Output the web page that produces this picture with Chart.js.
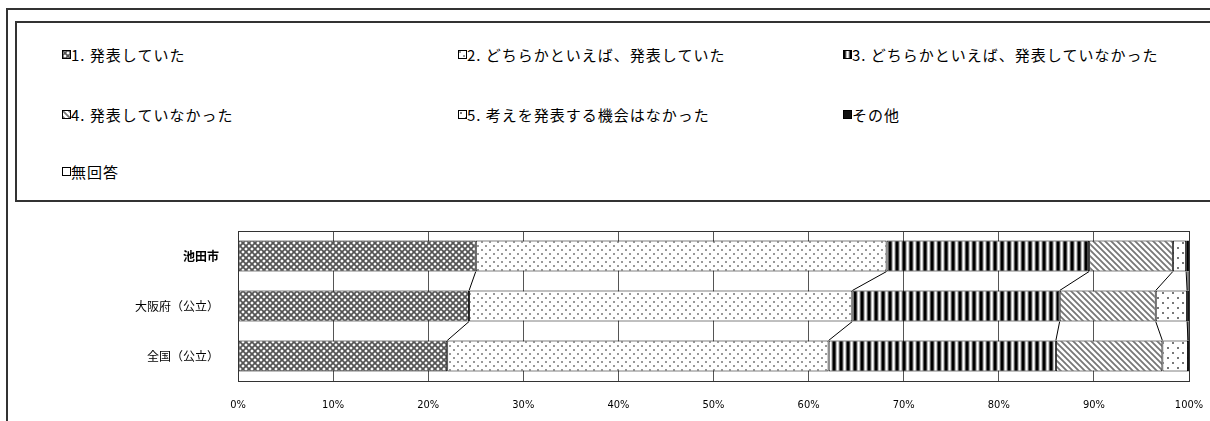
<!DOCTYPE html>
<html lang="ja">
<head>
<meta charset="utf-8">
<script src="https://cdn.jsdelivr.net/npm/chart.js@4"></script>
<style>
  body { margin: 0; background: #fff; }
  #wrap { position: relative; width: 1210px; height: 421px; overflow: hidden; }
  .frame { position: absolute; border: 2px solid #333; box-sizing: border-box; }
  #outer { left: 6px; top: 8px; width: 1300px; height: 500px; }
  #legendBox { left: 15px; top: 21px; width: 1300px; height: 181px; }
  .item { position: absolute; font: 15px "Noto Sans CJK JP", sans-serif; letter-spacing: 1px; color: #000; white-space: nowrap; line-height: 16px; }
  .item canvas { position: absolute; left: 0; top: 3px; }
  .item span { position: absolute; left: 9px; top: 0; }
  #chart { position: absolute; left: 0; top: 0; }
</style>
</head>
<body>
<div id="wrap">
  <div id="outer" class="frame"></div>
  <div id="legendBox" class="frame"></div>
  <div id="legend"></div>
  <canvas id="chart" width="1210" height="421"></canvas>
</div>
<script>
// 選択肢と地域
const categories = ["池田市", "大阪府（公立）", "全国（公立）"];
const seriesLabels = [
    "1. 発表していた",
    "2. どちらかといえば、発表していた",
    "3. どちらかといえば、発表していなかった",
    "4. 発表していなかった",
    "5. 考えを発表する機会はなかった",
    "その他",
    "無回答"
];
// 割合 (%)
const answer1 = [25.0, 24.3, 22.0];
const answer2 = [43.2, 40.3, 40.1];
const answer3 = [21.3, 21.8, 23.9];
const answer4 = [8.8, 10.1, 11.2];
const answer5 = [1.4, 3.3, 2.7];
const other = [0.2, 0.1, 0.0];
const noAnswer = [0.1, 0.1, 0.1];
const xTicks = [0, 10, 20, 30, 40, 50, 60, 70, 80, 90, 100];

const seriesValues = [answer1, answer2, answer3, answer4, answer5, other, noAnswer];

const ctx = document.getElementById("chart").getContext("2d");

// 模様を作る
function makePattern(w, h, draw) {
    const c = document.createElement("canvas");
    c.width = w;
    c.height = h;
    const g = c.getContext("2d");
    g.fillStyle = "#fff";
    g.fillRect(0, 0, w, h);
    draw(g);
    return ctx.createPattern(c, "repeat");
}

const patterns = [
    // 網目
    makePattern(6, 6, (g) => {
        g.strokeStyle = "#555";
        g.lineWidth = 1.8;
        g.beginPath();
        g.moveTo(-1, -1); g.lineTo(7, 7);
        g.moveTo(7, -1); g.lineTo(-1, 7);
        g.stroke();
    }),
    // 細かい点
    makePattern(8, 8, (g) => {
        g.fillStyle = "#999";
        g.fillRect(1, 1, 2, 2);
        g.fillRect(5, 5, 2, 2);
    }),
    // 縦じま
    makePattern(7, 1, (g) => {
        const cols = ["#000", "#000", "#444", "#bbb", "#fff", "#ccc", "#555"];
        cols.forEach((col, i) => {
            g.fillStyle = col;
            g.fillRect(i, 0, 1, 1);
        });
    }),
    // 斜線
    makePattern(6, 6, (g) => {
        g.strokeStyle = "#777";
        g.lineWidth = 1.8;
        g.beginPath();
        g.moveTo(-1, -1); g.lineTo(7, 7);
        g.moveTo(-4, 2); g.lineTo(2, 8);
        g.moveTo(2, -4); g.lineTo(8, 2);
        g.stroke();
    }),
    // 粗い点
    makePattern(10, 10, (g) => {
        g.fillStyle = "#777";
        g.fillRect(2, 2, 2, 2);
        g.fillRect(7, 7, 2, 2);
    }),
    "#111",
    "#fff"
];

// 凡例 (HTML)
const legendCols = [62, 458, 843];
const legendRows = [47, 107, 164];
const legendEl = document.getElementById("legend");
seriesLabels.forEach((label, i) => {
    const item = document.createElement("div");
    item.className = "item";
    item.style.left = legendCols[i % 3] + "px";
    item.style.top = legendRows[Math.floor(i / 3)] + "px";
    const sw = document.createElement("canvas");
    sw.width = 9;
    sw.height = 9;
    const sg = sw.getContext("2d");
    sg.fillStyle = patterns[i];
    sg.fillRect(0, 0, 9, 9);
    sg.strokeStyle = "#000";
    sg.lineWidth = 1;
    sg.strokeRect(0.5, 0.5, 8, 8);
    const txt = document.createElement("span");
    txt.textContent = label;
    item.appendChild(sw);
    item.appendChild(txt);
    legendEl.appendChild(item);
});

// 区分線と枠
const seriesLinesPlugin = {
    id: "seriesLines",
    afterDatasetsDraw(chart) {
        const c = chart.ctx;
        const xScale = chart.scales.x;
        const area = chart.chartArea;
        c.save();
        c.strokeStyle = "#000";
        c.lineWidth = 1;
        const n = chart.data.datasets.length;
        for (let k = 0; k < n - 1; k++) {
            const meta = chart.getDatasetMeta(k);
            for (let i = 0; i < categories.length - 1; i++) {
                let sumA = 0, sumB = 0;
                for (let j = 0; j <= k; j++) {
                    sumA += seriesValues[j][i];
                    sumB += seriesValues[j][i + 1];
                }
                const barA = meta.data[i];
                const barB = meta.data[i + 1];
                const yA = barA.y + barA.height / 2;
                const yB = barB.y - barB.height / 2;
                c.beginPath();
                c.moveTo(xScale.getPixelForValue(sumA), yA);
                c.lineTo(xScale.getPixelForValue(sumB), yB);
                c.stroke();
            }
        }
        c.strokeStyle = "#333";
        c.strokeRect(area.left + 0.5, area.top + 0.5, area.right - area.left, area.bottom - area.top);
        c.restore();
    }
};

new Chart(ctx, {
    type: "bar",
    data: {
        labels: categories,
        datasets: seriesLabels.map((label, i) => ({
            label: label,
            data: seriesValues[i],
            backgroundColor: patterns[i],
            borderColor: "#000",
            borderWidth: 1,
            borderSkipped: false,
            barPercentage: 0.62,
            categoryPercentage: 1.0
        }))
    },
    options: {
        indexAxis: "y",
        responsive: false,
        animation: false,
        layout: { padding: { top: 231, right: 21, left: 0, bottom: 0 } },
        plugins: {
            legend: { display: false },
            tooltip: { enabled: false }
        },
        scales: {
            x: {
                stacked: true,
                min: 0,
                max: 100,
                afterBuildTicks: (scale) => { scale.ticks = xTicks.map((v) => ({ value: v })); },
                afterFit: (scale) => {
                    scale.height = 40;
                    scale.paddingLeft = 0;
                    scale.paddingRight = 0;
                },
                grid: { color: "#555", drawTicks: false },
                border: { display: false },
                ticks: {
                    padding: 18,
                    color: "#000",
                    font: { family: "'Liberation Sans Narrow', 'DejaVu Sans Condensed', sans-serif", size: 11 },
                    callback: (v) => v + "%"
                }
            },
            y: {
                stacked: true,
                afterFit: (scale) => { scale.width = 238; },
                grid: { display: false, drawTicks: false },
                border: { display: false },
                ticks: {
                    padding: 19,
                    color: "#000",
                    font: (c) => ({
                        family: "'Noto Sans CJK JP', sans-serif",
                        size: 12,
                        weight: c.index === 0 ? "bold" : "normal"
                    })
                }
            }
        }
    },
    plugins: [seriesLinesPlugin]
});
</script>
</body>
</html>
